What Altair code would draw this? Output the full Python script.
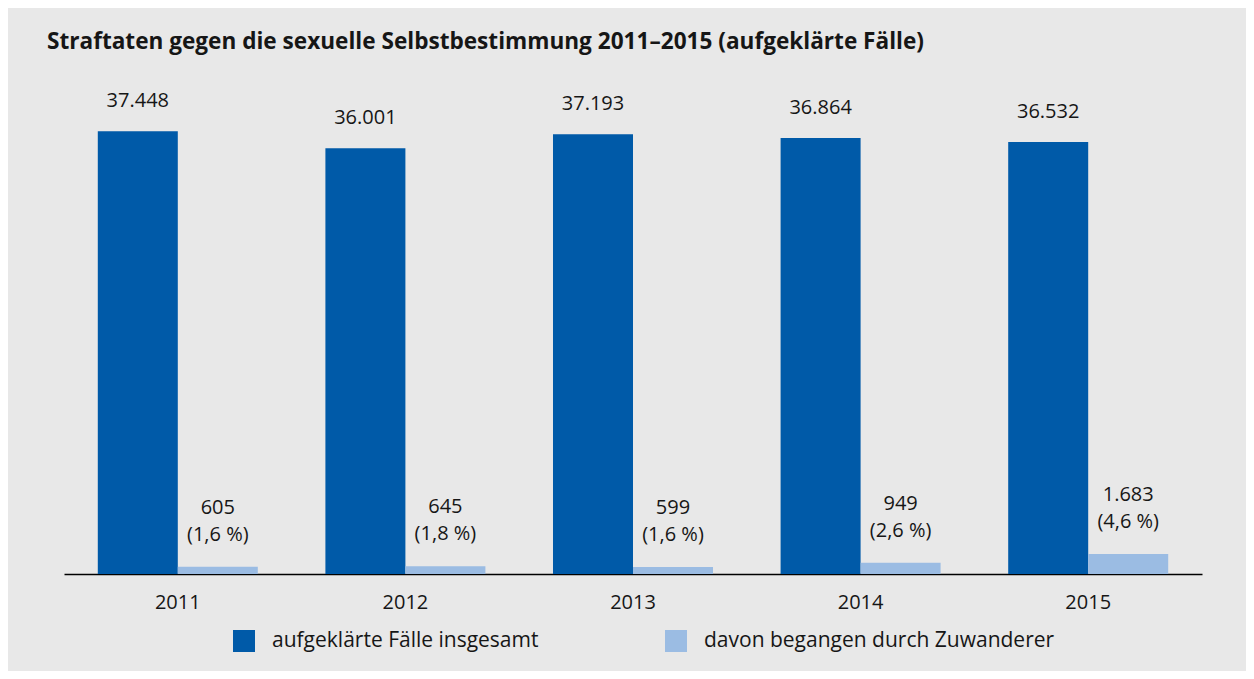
import altair as alt
import pandas as pd

years = ["2011", "2012", "2013", "2014", "2015"]
total = [37448, 36001, 37193, 36864, 36532]
migrants = [605, 645, 599, 949, 1683]
shares = ["1,6 %", "1,8 %", "1,6 %", "2,6 %", "4,6 %"]
series = ["aufgeklärte Fälle insgesamt", "davon begangen durch Zuwanderer"]
colors = ["#005aa8", "#9bbce3"]

FONT = "Open Sans"
TXT = "#161616"


def de(n):
    return f"{n:,}".replace(",", ".")


rows = []
for y, t, m, s in zip(years, total, migrants, shares):
    rows.append({"Jahr": y, "Reihe": series[0], "Wert": t, "Label": de(t)})
    rows.append({"Jahr": y, "Reihe": series[1], "Wert": m, "Label": f"{de(m)}\n({s})"})
df = pd.DataFrame(rows)

x = alt.X(
    "Jahr:N",
    sort=years,
    scale=alt.Scale(paddingInner=0.297, paddingOuter=0.1485),
    axis=alt.Axis(
        title=None,
        labelAngle=0,
        ticks=False,
        domainColor="#000000",
        domainWidth=1.5,
        labelFont=FONT,
        labelFontSize=20,
        labelColor=TXT,
        labelPadding=18,
    ),
)
xo = alt.XOffset("Reihe:N", sort=series, scale=alt.Scale(paddingInner=0, paddingOuter=0))
y = alt.Y("Wert:Q", scale=alt.Scale(domain=[0, 40000]), axis=None)

bars = alt.Chart(df).mark_bar().encode(
    x=x,
    xOffset=xo,
    y=y,
    color=alt.Color(
        "Reihe:N",
        sort=series,
        scale=alt.Scale(domain=series, range=colors),
        legend=alt.Legend(
            title=None,
            orient="none",
            legendX=169,
            legendY=529,
            direction="horizontal",
            symbolType="square",
            symbolSize=484,
            symbolStrokeWidth=0,
            symbolOpacity=1,
            labelFont=FONT,
            labelFontSize=21,
            labelColor=TXT,
            labelOffset=17,
            labelLimit=600,
            columnPadding=126,
        ),
    ),
)

text_style = dict(
    baseline="middle",
    align="center",
    lineBreak="\n",
    lineHeight=27,
    font=FONT,
    fontSize=20,
    color=TXT,
)

labels_total = (
    alt.Chart(df)
    .transform_filter(alt.datum.Reihe == series[0])
    .mark_text(dy=-30, **text_style)
    .encode(x=x, xOffset=xo, y=y, text="Label:N")
)
labels_mig = (
    alt.Chart(df)
    .transform_filter(alt.datum.Reihe == series[1])
    .mark_text(dy=-59, **text_style)
    .encode(x=x, xOffset=xo, y=y, text="Label:N")
)

chart = (
    alt.layer(bars, labels_total, labels_mig)
    .properties(
        width=1138,
        height=473,
        padding={"left": 56, "top": 93, "right": 44, "bottom": 97},
        autosize=alt.AutoSizeParams(type="none"),
        background="#e8e8e8",
        title=alt.TitleParams(
            "Straftaten gegen die sexuelle Selbstbestimmung 2011–2015 (aufgeklärte Fälle)",
            anchor="start",
            font=FONT,
            fontSize=22.6,
            fontWeight="bold",
            color=TXT,
            dx=-17,
            offset=20,
            baseline="alphabetic",
        ),
    )
    .configure_view(stroke=None)
)

chart.save("out.html", embed_options={"renderer": "svg", "actions": False})
